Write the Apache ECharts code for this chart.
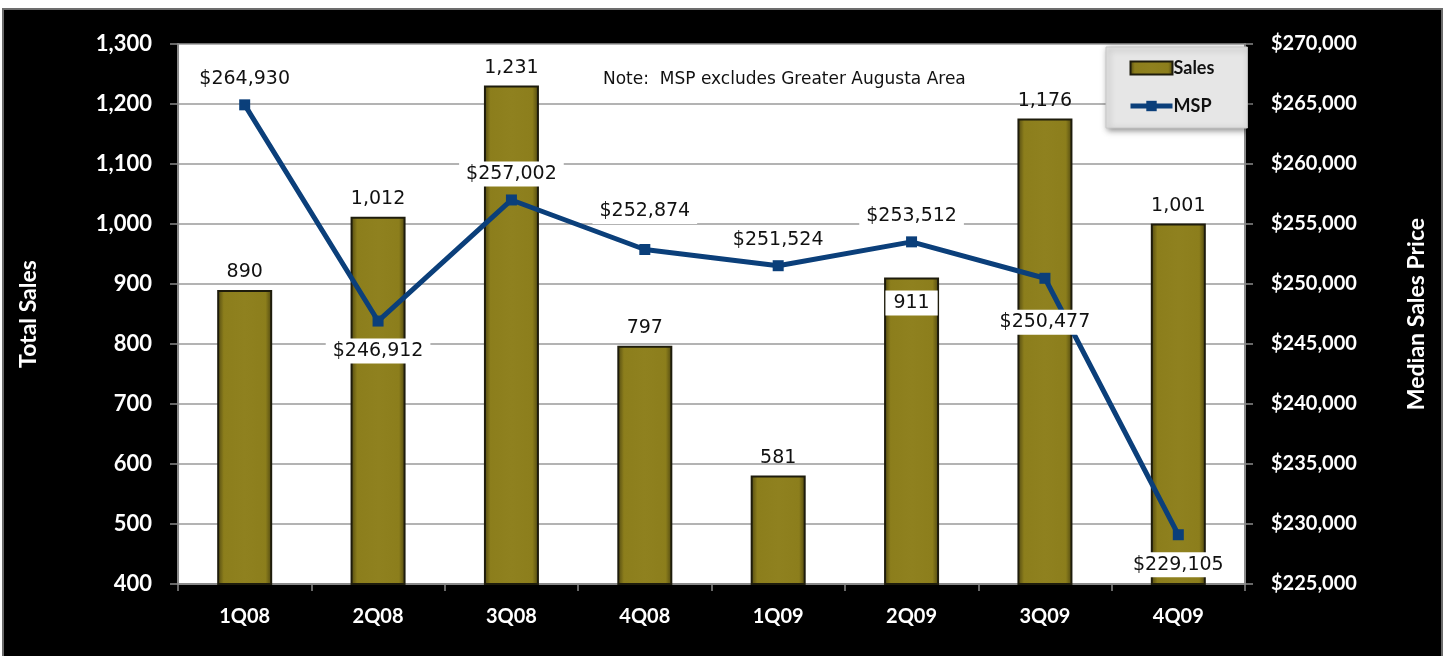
<!DOCTYPE html>
<html>
<head>
<meta charset="utf-8">
<script src="https://cdn.jsdelivr.net/npm/echarts@6/dist/echarts.min.js"></script>
<style>
  html, body { margin: 0; padding: 0; background: #fff; width: 1443px; height: 656px; overflow: hidden; }
  #frame { position: absolute; left: 2px; top: 8px; width: 1437px; height: 650px; border: 2px solid #6d6d6d; border-bottom: none; background: #000; }
  #chart { position: absolute; left: 0; top: 0; width: 1437px; height: 646px; }
</style>
</head>
<body>
<div id="frame"><div id="chart"></div></div>
<script>
// Quarterly sales volume and median sales price
const quarters = ['1Q08', '2Q08', '3Q08', '4Q08', '1Q09', '2Q09', '3Q09', '4Q09'];
const totalSales = [890, 1012, 1231, 797, 581, 911, 1176, 1001];
const medianPrice = [264930, 246912, 257002, 252874, 251524, 253512, 250477, 229105];
// where each price label sits relative to its point
const priceLabelPlace = ['top', 'bottom', 'top', 'top', 'top', 'top', 'bottom', 'bottom'];
const priceLabelGap = [8, 12, 8, 20, 8, 8, 26, 12];

const salesTicks = { min: 400, max: 1300, interval: 100 };
const priceTicks = { min: 225000, max: 270000, interval: 5000 };

const numFmt = new Intl.NumberFormat('en-US');
const axisFont = 'Lato, "Open Sans", sans-serif';
const valueFont = '"DejaVu Sans", Verdana, sans-serif';

const barData = totalSales.map((v, i) => {
  const item = { value: v };
  if (v === 911) {
    item.label = {
      position: 'insideTop', distance: 13, backgroundColor: '#fff',
      padding: [3, 8, 3, 8]
    };
  }
  return item;
});

const lineData = medianPrice.map((v, i) => ({
  value: v,
  label: { position: priceLabelPlace[i], distance: priceLabelGap[i] }
}));

const chart = echarts.init(document.getElementById('chart'), null, { renderer: 'canvas' });

chart.setOption({
  backgroundColor: '#000',
  animation: false,
  title: {
    text: 'Note:  MSP excludes Greater Augusta Area',
    left: 599, top: 61, padding: 0,
    textStyle: { color: '#111', fontSize: 17, fontWeight: 'normal', fontFamily: valueFont }
  },
  legend: {
    orient: 'vertical',
    left: 1102, top: 37,
    padding: [12, 33, 13, 22],
    itemGap: 20,
    itemWidth: 42, itemHeight: 13,
    backgroundColor: '#e6e6e6',
    borderColor: '#c8c8c8', borderWidth: 1,
    shadowColor: 'rgba(0,0,0,0.45)', shadowBlur: 6, shadowOffsetX: 2, shadowOffsetY: 2,
    textStyle: { color: '#111', fontSize: 18, fontWeight: 'bold', fontFamily: axisFont, padding: [0, 0, 0, -4] },
    data: [
      { name: 'Sales', icon: 'rect' },
      { name: 'MSP', lineStyle: { width: 5 } }
    ]
  },
  grid: {
    left: 174, right: 196, top: 34, bottom: 72,
    show: true, backgroundColor: '#fff', borderWidth: 0
  },
  xAxis: {
    type: 'category',
    data: quarters,
    axisLine: { lineStyle: { color: '#8a8a8a', width: 2 } },
    axisTick: { show: true, length: 7, lineStyle: { color: '#8a8a8a', width: 1.5 } },
    axisLabel: { color: '#fff', fontSize: 20, fontWeight: 'bold', fontFamily: axisFont, margin: 23 }
  },
  yAxis: [
    {
      type: 'value',
      min: salesTicks.min, max: salesTicks.max, interval: salesTicks.interval,
      name: 'Total Sales', nameLocation: 'middle', nameRotate: 90, nameGap: 138,
      nameTextStyle: { color: '#fff', fontSize: 23, fontWeight: 'bold', fontFamily: axisFont },
      axisLine: { show: true, lineStyle: { color: '#8a8a8a', width: 2 } },
      axisTick: { show: true, length: 8, lineStyle: { color: '#8a8a8a', width: 1.5 } },
      axisLabel: {
        color: '#fff', fontSize: 22, fontWeight: 'bold', fontFamily: axisFont, margin: 26,
        formatter: v => numFmt.format(v)
      },
      splitLine: { lineStyle: { color: '#9a9a9a', width: 1.5 } }
    },
    {
      type: 'value',
      min: priceTicks.min, max: priceTicks.max, interval: priceTicks.interval,
      name: 'Median Sales Price', nameLocation: 'middle', nameRotate: 90, nameGap: 160,
      nameTextStyle: { color: '#fff', fontSize: 23, fontWeight: 'bold', fontFamily: axisFont },
      axisLine: { show: true, lineStyle: { color: '#8a8a8a', width: 2 } },
      axisTick: { show: true, length: 8, lineStyle: { color: '#8a8a8a', width: 1.5 } },
      axisLabel: {
        color: '#fff', fontSize: 20, fontWeight: 'bold', fontFamily: axisFont, margin: 26,
        formatter: v => '$' + numFmt.format(v)
      },
      splitLine: { show: false }
    }
  ],
  series: [
    {
      name: 'Sales',
      type: 'bar',
      yAxisIndex: 0,
      barWidth: 55,
      data: barData,
      itemStyle: {
        color: {
          type: 'linear', x: 0, y: 0, x2: 1, y2: 0,
          colorStops: [
            { offset: 0, color: '#4d4510' },
            { offset: 0.12, color: '#8c7e1c' },
            { offset: 0.5, color: '#8f811f' },
            { offset: 0.88, color: '#8c7e1c' },
            { offset: 1, color: '#4d4510' }
          ]
        },
        borderColor: '#1e1c0c', borderWidth: 2
      },
      label: {
        show: true, position: 'top', distance: 8,
        color: '#111', fontSize: 19, fontFamily: valueFont,
        formatter: p => numFmt.format(p.value)
      },
      z: 2
    },
    {
      name: 'MSP',
      type: 'line',
      yAxisIndex: 1,
      data: lineData,
      symbol: 'rect',
      symbolSize: 11,
      lineStyle: { color: '#0b3f7a', width: 5 },
      itemStyle: { color: '#0b3f7a' },
      label: {
        show: true,
        color: '#111', fontSize: 19, fontFamily: valueFont,
        backgroundColor: '#fff', padding: [3, 7, 3, 7],
        formatter: p => '$' + numFmt.format(p.value)
      },
      z: 3
    }
  ]
});
</script>
</body>
</html>
